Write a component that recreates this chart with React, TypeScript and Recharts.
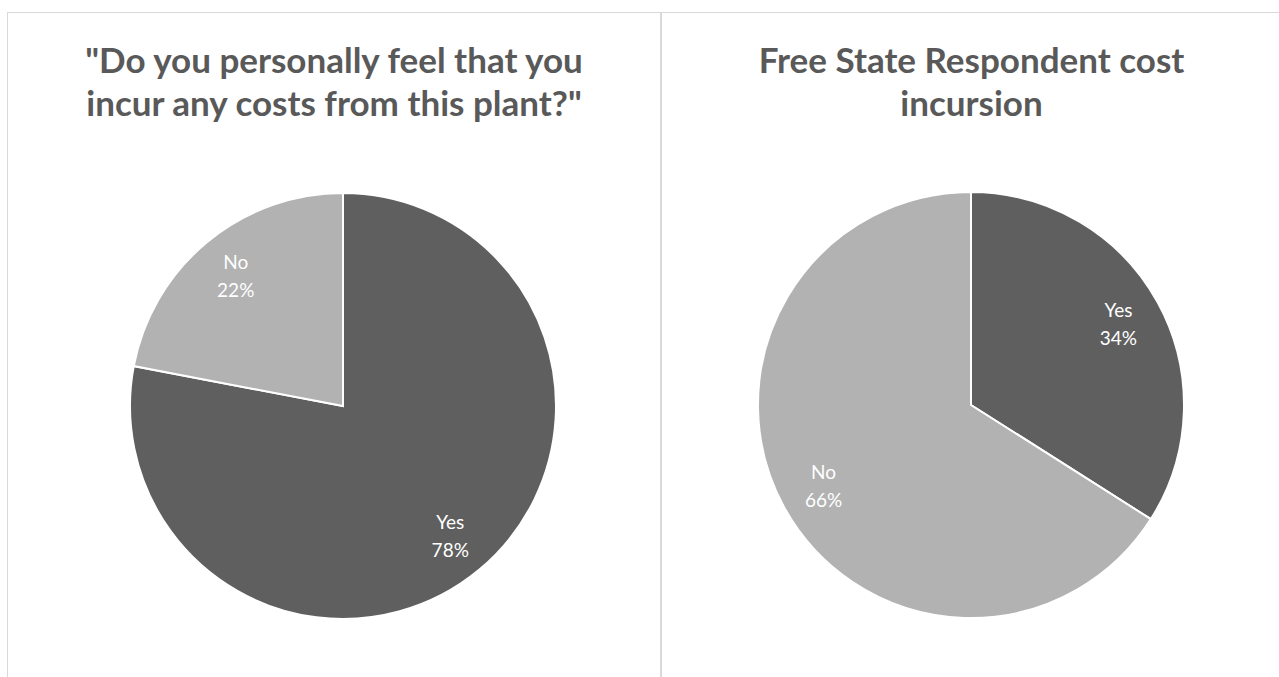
import React from 'react';
import { PieChart, Pie, Cell } from 'recharts';

// left chart: everyone asked
const leftNames = ['Yes', 'No'];
const leftValues = [78, 22];
// right chart: Free State respondents
const rightNames = ['Yes', 'No'];
const rightValues = [34, 66];

const COLORS = ['#5f5f5f', '#b2b2b2'];
const RAD = Math.PI / 180;

const toRows = (names: string[], values: number[]) =>
  names.map((name, i) => ({ name, value: values[i] }));

function renderLabel(props: any) {
  const { cx, cy, midAngle, outerRadius, name, value } = props;
  const r = outerRadius * 0.79;
  const x = cx + r * Math.cos(-midAngle * RAD);
  const y = cy + r * Math.sin(-midAngle * RAD);
  return (
    <text x={x} y={y} fill="#ffffff" textAnchor="middle" fontSize={19} fontFamily="Lato, sans-serif">
      <tspan x={x} dy={-7}>{name}</tspan>
      <tspan x={x} dy={28}>{`${value}%`}</tspan>
    </text>
  );
}

const titleStyle: React.CSSProperties = {
  position: 'absolute',
  top: 25,
  left: 0,
  width: '100%',
  textAlign: 'center',
  fontFamily: 'Lato, sans-serif',
  fontWeight: 700,
  fontSize: 35,
  lineHeight: '43px',
  color: '#595959',
};

interface PanelProps {
  title: React.ReactNode;
  names: string[];
  values: number[];
  left: number;
  width: number;
  cx: number;
  cy: number;
  titleShift?: number;
  borderRight?: boolean;
}

function Panel({ title, names, values, left, width, cx, cy, titleShift = 0, borderRight }: PanelProps) {
  return (
    <div
      style={{
        position: 'absolute',
        left,
        top: 12,
        width,
        height: 700,
        borderTop: '1px solid #d9d9d9',
        borderLeft: '1px solid #d9d9d9',
        borderRight: borderRight ? '1px solid #d9d9d9' : undefined,
        boxSizing: 'border-box',
        background: '#fff',
      }}
    >
      <div style={{ ...titleStyle, left: titleShift }}>{title}</div>
      <div style={{ position: 'absolute', left: 0, top: 0 }}>
        <PieChart width={width - 2} height={665} margin={{ top: 0, right: 0, bottom: 0, left: 0 }}>
          <Pie
            data={toRows(names, values)}
            dataKey="value"
            nameKey="name"
            cx={cx}
            cy={cy}
            outerRadius={213}
            startAngle={90}
            endAngle={-270}
            stroke="#ffffff"
            strokeWidth={2}
            label={renderLabel}
            labelLine={false}
            isAnimationActive={false}
          >
            {names.map((n, i) => (
              <Cell key={n} fill={COLORS[i % COLORS.length]} />
            ))}
          </Pie>
        </PieChart>
      </div>
    </div>
  );
}

export default function App() {
  return (
    <div style={{ position: 'fixed', left: 0, top: 0, width: 1279, height: 677, overflow: 'hidden', background: '#fff' }}>
      <Panel
        title={<>"Do you personally feel that you<br />incur any costs from this plant?"</>}
        names={leftNames}
        values={leftValues}
        left={7}
        width={654}
        cx={335}
        cy={393}
        titleShift={0}
        borderRight
      />
      <Panel
        title={<>Free State Respondent cost<br />incursion</>}
        names={rightNames}
        values={rightValues}
        left={661}
        width={640}
        cx={309}
        cy={392}
        titleShift={-10}
      />
    </div>
  );
}
